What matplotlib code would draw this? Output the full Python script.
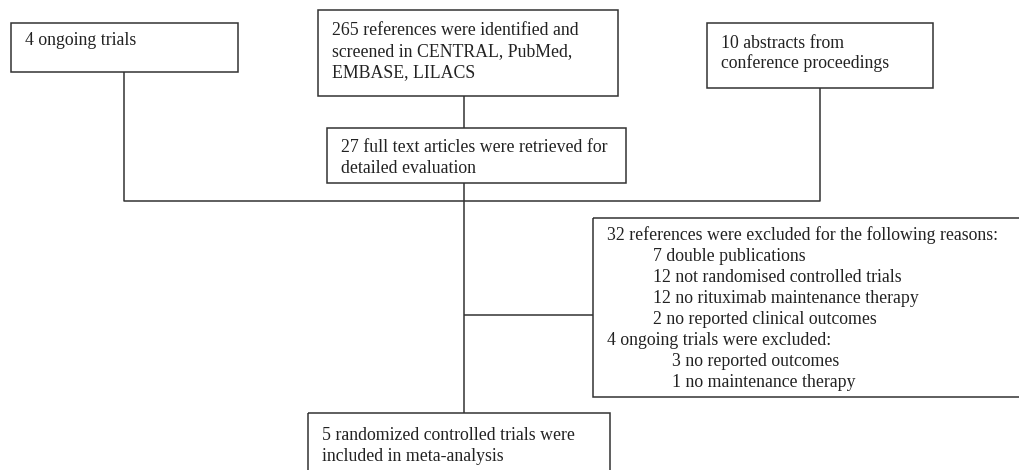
import matplotlib
matplotlib.use("Agg")
import matplotlib.pyplot as plt
from matplotlib.patches import Rectangle

# ---- content ----
ongoing_text = ["4 ongoing trials"]
search_text = ["265 references were identified and",
               "screened in CENTRAL, PubMed,",
               "EMBASE, LILACS"]
abstracts_text = ["10 abstracts from",
                  "conference proceedings"]
fulltext_text = ["27 full text articles were retrieved for",
                 "detailed evaluation"]
excluded_text = ["32 references were excluded for the following reasons:",
                 "7 double publications",
                 "12 not randomised controlled trials",
                 "12 no rituximab maintenance therapy",
                 "2 no reported clinical outcomes",
                 "4 ongoing trials were excluded:",
                 "3 no reported outcomes",
                 "1 no maintenance therapy"]
excluded_indent = [0, 1, 1, 1, 1, 0, 2, 2]
included_text = ["5 randomized controlled trials were",
                 "included in meta-analysis"]

W, H = 1019, 470
fig = plt.figure(figsize=(W / 100, H / 100), dpi=100)
ax = fig.add_axes([0, 0, 1, 1])
ax.set_xlim(0, W)
ax.set_ylim(H, 0)
ax.axis("off")

LC = "#333333"
TC = "#222222"
LW = 1.1
FONT = "Liberation Serif"
FS = 12.8
LH = 21


def box(x0, y0, x1, y1):
    ax.add_patch(Rectangle((x0, y0), x1 - x0, y1 - y0, fill=False,
                           edgecolor=LC, linewidth=LW, clip_on=False))


def line(xs, ys):
    ax.plot(xs, ys, color=LC, linewidth=LW, solid_capstyle="butt",
            clip_on=False)


def lines(texts, x, y0, indents=None, step=LH, indent_px=(0, 46, 65)):
    for i, t in enumerate(texts):
        dx = indent_px[indents[i]] if indents else 0
        ax.text(x + dx, y0 + i * step, t, fontsize=FS, family=FONT,
                color=TC, ha="left", va="baseline")


# connectors
line([124, 124, 820, 820], [72, 201, 201, 88])
line([464, 464], [96, 128])
line([464, 464], [183, 413])
line([464, 593], [315, 315])

# boxes
box(11, 23, 238, 72)
box(318, 10, 618, 96)
box(707, 23, 933, 88)
box(327, 128, 626, 183)
box(593, 218, 1025, 397)
box(308, 413, 610, 480)

# texts
lines(ongoing_text, 25, 45)
lines(search_text, 332, 35)
lines(abstracts_text, 721, 48, step=20)
lines(fulltext_text, 341, 152)
lines(excluded_text, 607, 240, indents=excluded_indent)
lines(included_text, 322, 440)

fig.savefig("out.png", dpi=100, facecolor="white")
